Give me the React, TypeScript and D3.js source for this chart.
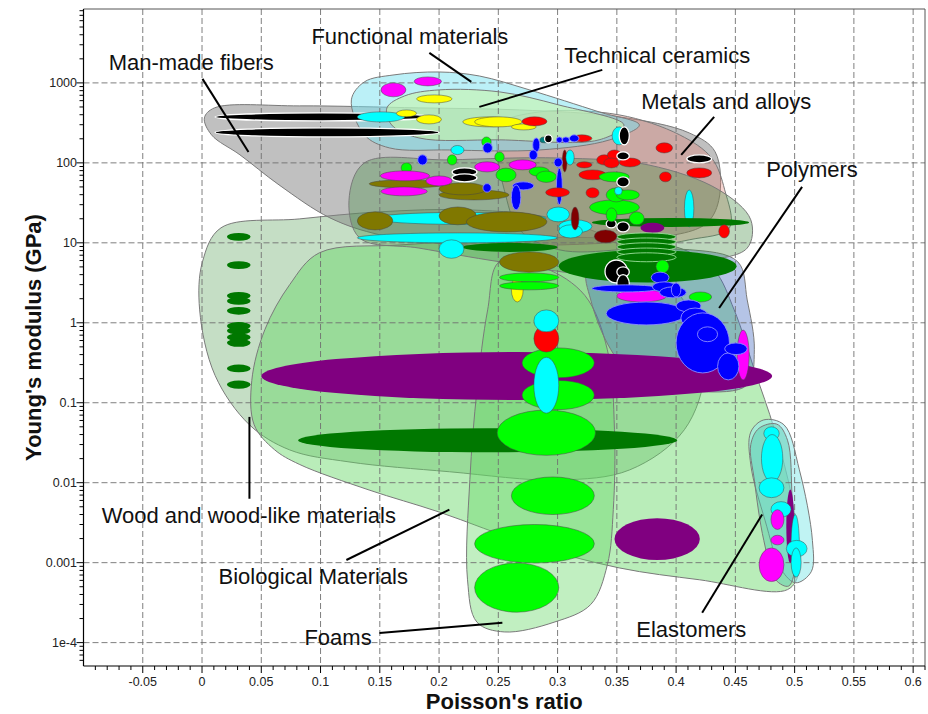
import React from "react";
import * as d3 from "d3";

type Pt = [number, number];
type Ell = [number, number, number, number, string];

// Axis domains: Poisson's ratio (linear) and Young's modulus in GPa (log)
const xDomain: [number, number] = [-0.1, 0.61];
const yDomain: [number, number] = [5.1e-5, 8400];

const xTickValues = [-0.05, 0, 0.05, 0.1, 0.15, 0.2, 0.25, 0.3, 0.35, 0.4, 0.45, 0.5, 0.55, 0.6];
const xTickLabels = ["-0.05", "0", "0.05", "0.1", "0.15", "0.2", "0.25", "0.3", "0.35", "0.4", "0.45", "0.5", "0.55", "0.6"];
const yTickValues = [1e-4, 1e-3, 0.01, 0.1, 1, 10, 100, 1000];
const yTickLabels = ["1e-4", "0.001", "0.01", "0.1", "1", "10", "100", "1000"];

const palette: Record<string, string> = {
  black: "#000000",
  cyan: "#00ffff",
  magenta: "#ff00ff",
  yellow: "#ffff00",
  red: "#ff0000",
  blue: "#0000ff",
  lime: "#00ff00",
  green: "#007800",
  purple: "#800080",
  olive: "#807800",
  maroon: "#800000",
  teal: "#008080",
};

// Family envelopes: [Poisson's ratio, E (GPa)]
const woodEnvelope: Pt[] = [
  [0.016, 15.4], [0.082, 19.9], [0.15, 24.4], [0.226, 25.8], [0.301, 19.4], [0.369, 7.1],
  [0.411, 1.45], [0.424, 0.26], [0.407, 0.046], [0.361, 0.0145], [0.301, 0.0108],
  [0.209, 0.0137], [0.124, 0.0182], [0.074, 0.0257], [0.04, 0.053], [0.011, 0.22],
  [-0.002, 1.45], [0.0004, 5.8],
];
const bioEnvelope: Pt[] = [
  [0.099, 7.5], [0.074, 3.0], [0.053, 0.82], [0.042, 0.19], [0.044, 0.053], [0.061, 0.026],
  [0.082, 0.017], [0.141, 0.0081], [0.2, 0.0043], [0.276, 0.0017], [0.352, 0.00086],
  [0.42, 0.00061], [0.494, 0.00046], [0.504, 0.00081], [0.498, 0.0061], [0.483, 0.046],
  [0.466, 0.26], [0.449, 1.45], [0.432, 4.6], [0.403, 8.6], [0.335, 11.5], [0.251, 10.9],
  [0.167, 9.4],
];
const foamEnvelope: Pt[] = [
  [0.251, 5.8], [0.289, 4.85], [0.323, 2.2], [0.342, 0.46], [0.348, 0.046], [0.347, 0.0046],
  [0.342, 0.00094], [0.328, 0.0003], [0.297, 0.00018], [0.255, 0.000136], [0.232, 0.00018],
  [0.224, 0.00061], [0.226, 0.011], [0.232, 0.145], [0.241, 1.45],
];
const polymerEnvelope: Pt[] = [
  [0.325, 4.6], [0.352, 7.1], [0.411, 8.2], [0.452, 5.8], [0.46, 1.93], [0.466, 0.46],
  [0.46, 0.167], [0.42, 0.137], [0.369, 0.182], [0.345, 0.46], [0.328, 1.93],
];
const compositeEnvelope: Pt[] = [
  [0.137, 100], [0.209, 109], [0.301, 115], [0.377, 94], [0.436, 46], [0.463, 19.4],
  [0.46, 8.6], [0.42, 5.8], [0.335, 4.0], [0.251, 5.8], [0.183, 8.6], [0.133, 11.5],
  [0.124, 34],
];
const fiberEnvelope: Pt[] = [
  [0.002, 365], [0.0105, 487], [0.082, 516], [0.183, 487], [0.268, 459], [0.352, 376],
  [0.411, 237], [0.433, 137], [0.436, 34], [0.424, 16.8], [0.369, 10.9], [0.301, 9.4],
  [0.217, 9.4], [0.15, 12.6], [0.108, 20.5], [0.065, 53], [0.032, 126], [0.008, 224],
];
const metalEnvelope: Pt[] = [
  [0.251, 300], [0.285, 434], [0.352, 398], [0.403, 224], [0.43, 115], [0.441, 46],
  [0.445, 15.4], [0.411, 10.9], [0.352, 8.2], [0.301, 8.2], [0.268, 14.5], [0.255, 46],
  [0.249, 145],
];
const functionalEnvelope: Pt[] = [
  [0.126, 613], [0.137, 1030], [0.162, 1260], [0.2, 1370], [0.234, 1220], [0.276, 820],
  [0.335, 434], [0.369, 298], [0.344, 194], [0.285, 145], [0.209, 145], [0.158, 154],
  [0.137, 224],
];
const ceramicEnvelope: Pt[] = [
  [0.156, 487], [0.171, 688], [0.2, 818], [0.251, 772], [0.301, 530], [0.356, 298],
  [0.335, 194], [0.251, 194], [0.183, 205], [0.16, 298],
];
const elastomerOuter: Pt[] = [
  [0.474, 0.061], [0.491, 0.053], [0.504, 0.0145], [0.515, 0.0019], [0.514, 0.00077],
  [0.501, 0.00056], [0.489, 0.00081], [0.475, 0.0034], [0.463, 0.0167], [0.463, 0.043],
];
const elastomerInner: Pt[] = [
  [0.47, 0.048], [0.485, 0.054], [0.494, 0.034], [0.498, 0.0061], [0.501, 0.00108],
  [0.495, 0.00051], [0.484, 0.00061], [0.474, 0.0019], [0.466, 0.0108], [0.463, 0.03],
];

// Material ellipses: [nu min, nu max, E min, E max, colour]
const woodEllipses: Ell[] = [
  [0.021, 0.041, 10.6, 13.3, "green"], [0.021, 0.041, 4.7, 5.9, "green"],
  [0.021, 0.041, 1.94, 2.43, "green"], [0.021, 0.041, 1.68, 2.1, "green"],
  [0.021, 0.041, 1.26, 1.58, "green"], [0.021, 0.041, 0.81, 1.02, "green"],
  [0.021, 0.041, 0.71, 0.89, "green"], [0.021, 0.041, 0.59, 0.74, "green"],
  [0.021, 0.041, 0.5, 0.63, "green"], [0.021, 0.041, 0.24, 0.3, "green"],
  [0.021, 0.041, 0.15, 0.19, "green"],
];
const broadEllipses: Ell[] = [
  [0.05, 0.481, 0.108, 0.43, "purple"],
  [0.081, 0.401, 0.024, 0.048, "green"],
  [0.348, 0.42, 0.00108, 0.0036, "purple"],
];
const foamEllipses: Ell[] = [
  [0.27, 0.331, 0.205, 0.485, "lime"],
  [0.27, 0.331, 0.082, 0.19, "lime"],
  [0.249, 0.332, 0.022, 0.081, "lime"],
  [0.261, 0.331, 0.004, 0.0118, "lime"],
  [0.23, 0.331, 0.00099, 0.003, "lime"],
  [0.23, 0.301, 0.00024, 0.00099, "lime"],
  [0.28, 0.301, 0.43, 0.94, "red"],
  [0.28, 0.301, 0.77, 1.45, "cyan"],
  [0.28, 0.301, 0.074, 0.37, "cyan"],
  [0.261, 0.271, 1.82, 3.75, "yellow"],
];
const midEllipses: Ell[] = [
  [0.131, 0.3, 10, 13.3, "cyan"],
  [0.145, 0.29, 17, 24, "cyan"],
  [0.131, 0.161, 14.5, 24.4, "olive"],
  [0.2, 0.2315, 16.8, 28.1, "olive"],
  [0.223, 0.291, 13.7, 24.4, "olive"],
  [0.22, 0.3, 7.7, 10, "green"],
  [0.2, 0.221, 6.4, 10.9, "cyan"],
  [0.251, 0.301, 4.3, 7.7, "olive"],
  [0.251, 0.301, 3.25, 4.2, "lime"],
  [0.251, 0.301, 2.58, 3.25, "lime"],
  [0.291, 0.31, 18.3, 28, "cyan"],
  [0.301, 0.329, 13.3, 19.4, "cyan"],
  [0.301, 0.321, 11.5, 16.8, "cyan"],
  [0.3115, 0.318, 14.5, 28, "maroon"],
];
const topEllipses: Ell[] = [
  [0.011, 0.192, 335, 421, "black"],
  [0.011, 0.2, 211, 274, "black"],
  [0.151, 0.172, 670, 1000, "magenta"],
  [0.179, 0.202, 918, 1189, "magenta"],
  [0.181, 0.211, 562, 708, "yellow"],
  [0.131, 0.171, 325, 434, "cyan"],
  [0.164, 0.181, 376, 459, "yellow"],
  [0.181, 0.202, 307, 398, "yellow"],
  [0.22, 0.265, 282, 376, "yellow"],
  [0.23, 0.27, 282, 376, "yellow"],
  [0.261, 0.282, 258, 307, "yellow"],
  [0.27, 0.291, 290, 376, "red"],
];
const dotEllipses: Ell[] = [
  [0.236, 0.244, 158, 211, "lime"],
  [0.237, 0.245, 133, 178, "blue"],
  [0.21, 0.221, 127, 165, "cyan"],
  [0.182, 0.19, 94, 126, "blue"],
  [0.207, 0.215, 94, 126, "lime"],
  [0.168, 0.177, 75, 100, "lime"],
  [0.247, 0.255, 103, 137, "lime"],
  [0.141, 0.206, 48.7, 61.3, "olive"],
  [0.2, 0.259, 34.4, 45.9, "olive"],
  [0.2, 0.24, 39.8, 56.2, "olive"],
  [0.23, 0.251, 77, 103, "magenta"],
  [0.1505, 0.192, 59.6, 79.4, "magenta"],
  [0.189, 0.211, 51.5, 68.7, "magenta"],
  [0.151, 0.19, 38.7, 50, "magenta"],
  [0.211, 0.232, 68.7, 86.5, "black"],
  [0.211, 0.232, 57.9, 72.8, "black"],
  [0.248, 0.265, 58, 86, "lime"],
  [0.237, 0.244, 43, 55, "blue"],
  [0.259, 0.282, 81.7, 109, "magenta"],
  [0.262, 0.28, 45.9, 57.9, "blue"],
  [0.261, 0.269, 25.8, 53, "blue"],
];
const metalEllipses: Ell[] = [
  [0.276, 0.293, 68, 89, "lime"],
  [0.282, 0.299, 57, 79, "lime"],
  [0.285, 0.293, 178, 211, "teal"],
  [0.289, 0.2955, 178, 224, "black"],
  [0.299, 0.304, 178, 211, "blue"],
  [0.304, 0.31, 178, 211, "blue"],
  [0.312, 0.329, 183, 224, "red"],
  [0.31, 0.318, 183, 224, "blue"],
  [0.279, 0.285, 137, 205, "blue"],
  [0.276, 0.283, 109, 145, "blue"],
  [0.304, 0.308, 77, 145, "maroon"],
  [0.307, 0.314, 94, 145, "cyan"],
  [0.297, 0.304, 89, 115, "blue"],
  [0.299, 0.304, 30, 86, "blue"],
  [0.316, 0.329, 86.5, 103, "red"],
  [0.333, 0.346, 94, 126, "red"],
  [0.342, 0.354, 109, 145, "red"],
  [0.339, 0.352, 86.5, 115, "red"],
  [0.352, 0.37, 89, 115, "red"],
  [0.35, 0.3605, 109, 137, "black"],
  [0.346, 0.358, 168, 282, "cyan"],
  [0.352, 0.3605, 168, 282, "black"],
  [0.383, 0.397, 133, 178, "red"],
  [0.409, 0.43, 100, 126, "black"],
  [0.409, 0.43, 64.9, 86.5, "red"],
  [0.386, 0.396, 57.9, 77.1, "red"],
  [0.324, 0.335, 36.5, 48.7, "red"],
  [0.29, 0.31, 37.5, 48.7, "red"],
  [0.318, 0.341, 61.3, 81.7, "red"],
  [0.327, 0.369, 22.4, 34.4, "lime"],
  [0.335, 0.3605, 57.9, 77.1, "lime"],
  [0.341, 0.358, 32.5, 48.7, "lime"],
  [0.3495, 0.369, 34.4, 45.9, "lime"],
  [0.35, 0.3605, 50, 66.8, "black"],
  [0.348, 0.3545, 39.8, 50, "cyan"],
  [0.407, 0.415, 15.8, 45.9, "cyan"],
];
const polymerBackEllipses: Ell[] = [
  [0.329, 0.4616, 15.8, 20.5, "green"],
  [0.301, 0.451, 3.2, 8.15, "green"],
  [0.37, 0.39, 13.3, 17.8, "purple"],
  [0.37, 0.392, 7.5, 10, "purple"],
];
const polymerStack: Ell[] = [
  [0.35, 0.4, 10.6, 13.3, "green"],
  [0.35, 0.4, 9.2, 11.5, "green"],
  [0.35, 0.4, 7.9, 10, "green"],
  [0.35, 0.4, 6.9, 8.6, "green"],
  [0.35, 0.4, 5.8, 7.5, "green"],
];
const polymerEllipses: Ell[] = [
  [0.341, 0.3495, 15.4, 19.4, "black"],
  [0.35, 0.3605, 13.7, 18.3, "black"],
  [0.341, 0.35, 18.3, 27.3, "lime"],
  [0.3605, 0.373, 16.8, 24.4, "lime"],
  [0.331, 0.35, 10, 14.5, "maroon"],
  [0.436, 0.445, 11.5, 16.8, "red"],
  [0.34, 0.359, 3.15, 6.1, "black"],
  [0.35, 0.3605, 3.75, 5.0, "black"],
  [0.35, 0.3605, 2.36, 4.0, "black"],
  [0.383, 0.394, 4.2, 6.1, "lime"],
  [0.35, 0.392, 1.82, 2.58, "magenta"],
  [0.329, 0.386, 2.43, 2.98, "blue"],
  [0.379, 0.394, 3.15, 4.3, "blue"],
  [0.38, 0.4, 2.43, 3.25, "blue"],
  [0.386, 0.4085, 2.05, 2.81, "blue"],
  [0.396, 0.404, 2.11, 3.15, "blue"],
  [0.411, 0.43, 1.82, 2.43, "lime"],
  [0.341, 0.4085, 0.94, 1.82, "blue"],
  [0.4, 0.421, 1.37, 1.93, "blue"],
  [0.404, 0.428, 0.86, 1.53, "blue"],
  [0.4515, 0.4616, 0.193, 0.81, "magenta"],
  [0.4, 0.445, 0.236, 1.33, "blue"],
  [0.418, 0.435, 0.58, 0.89, "blue"],
  [0.435, 0.453, 0.193, 0.42, "blue"],
  [0.441, 0.46, 0.4, 0.56, "blue"],
];
const elastomerEllipses: Ell[] = [
  [0.493, 0.4996, 0.00099, 0.0082, "purple"],
  [0.474, 0.487, 0.034, 0.05, "cyan"],
  [0.472, 0.49, 0.0102, 0.04, "cyan"],
  [0.47, 0.491, 0.0065, 0.0115, "cyan"],
  [0.48, 0.497, 0.0037, 0.0058, "cyan"],
  [0.48, 0.491, 0.0026, 0.0046, "magenta"],
  [0.48, 0.491, 0.00167, 0.0022, "magenta"],
  [0.497, 0.504, 0.00066, 0.004, "cyan"],
  [0.493, 0.5105, 0.00118, 0.0019, "cyan"],
  [0.497, 0.5055, 0.00066, 0.00153, "cyan"],
  [0.47, 0.491, 0.00058, 0.00153, "magenta"],
];

// Family labels: text anchor and leader line, in data units
const annotations: { text: string; at: Pt; from: Pt; to: Pt }[] = [
  { text: "Man-made fibers", at: [-0.0788, 1455], from: [0.0004, 1122], to: [0.0392, 137] },
  { text: "Functional materials", at: [0.0923, 3076], from: [0.1918, 2374], to: [0.2272, 1029] },
  { text: "Technical ceramics", at: [0.3057, 1778], from: [0.3377, 1455], to: [0.234, 501] },
  { text: "Metals and alloys", at: [0.3706, 473], from: [0.4321, 376], to: [0.4043, 126] },
  { text: "Polymers", at: [0.476, 66.7], from: [0.5063, 50], to: [0.4363, 1.53] },
  { text: "Wood and wood-like materials", at: [-0.0847, 0.00314], from: [0.04, 0.0063], to: [0.04, 0.0665] },
  { text: "Biological Materials", at: [0.0139, 0.000542], from: [0.1218, 0.00108], to: [0.2087, 0.0046] },
  { text: "Foams", at: [0.0864, 0.0000935], from: [0.1497, 0.000132], to: [0.2534, 0.000177] },
  { text: "Elastomers", at: [0.3664, 0.000118], from: [0.422, 0.000236], to: [0.4726, 0.004] },
];

const envelopeLayers: { pts: Pt[]; fill: string; op: number }[] = [
  { pts: woodEnvelope, fill: "rgb(140,190,140)", op: 0.5 },
  { pts: bioEnvelope, fill: "rgb(100,215,100)", op: 0.45 },
  { pts: foamEnvelope, fill: "rgb(100,215,100)", op: 0.4 },
  { pts: polymerEnvelope, fill: "rgb(60,100,190)", op: 0.38 },
  { pts: fiberEnvelope, fill: "rgb(130,130,130)", op: 0.5 },
  { pts: metalEnvelope, fill: "rgb(225,120,110)", op: 0.33 },
  { pts: compositeEnvelope, fill: "rgb(70,140,70)", op: 0.36 },
  { pts: functionalEnvelope, fill: "rgb(120,225,240)", op: 0.5 },
  { pts: ceramicEnvelope, fill: "rgb(200,245,170)", op: 0.6 },
  { pts: elastomerOuter, fill: "rgb(150,235,235)", op: 0.6 },
  { pts: elastomerInner, fill: "rgb(80,200,170)", op: 0.45 },
];

const FONT = "'Liberation Sans', Arial, Helvetica, sans-serif";

export default function App() {
  const left = 83.5, right = 925, top = 9, bottom = 666;
  const x = d3.scaleLinear().domain(xDomain).range([left, right]);
  const y = d3.scaleLog().domain(yDomain).range([bottom, top]);
  const hull = d3
    .line<Pt>()
    .x((d) => x(d[0]))
    .y((d) => y(d[1]))
    .curve(d3.curveCatmullRomClosed.alpha(0.5));

  const xMinor = d3.range(-10, 62).map((i) => i / 100).filter((v) => Math.abs(v * 20 - Math.round(v * 20)) > 1e-6);
  const yMinor: number[] = [];
  for (let k = -5; k <= 3; k++)
    for (let m = 2; m <= 9; m++) {
      const v = m * Math.pow(10, k);
      if (v >= yDomain[0] && v <= yDomain[1]) yMinor.push(v);
    }

  const strokeFor = (c: string) => {
    if (c === "black") return "#ffffff";
    if (c === "green" || c === "purple") return "none";
    if (c === "blue") return "#8c8cff";
    return "rgba(70,70,70,0.55)";
  };

  const drawEll = (list: Ell[], key: string, strokeOverride?: string) =>
    list.map((e, i) => {
      const [n1, n2, e1, e2, c] = e;
      const x1 = x(n1), x2 = x(n2), y1 = y(e1), y2 = y(e2);
      const st = strokeOverride ?? strokeFor(c);
      return (
        <ellipse
          key={key + i}
          cx={(x1 + x2) / 2}
          cy={(y1 + y2) / 2}
          rx={Math.abs(x2 - x1) / 2}
          ry={Math.abs(y2 - y1) / 2}
          fill={palette[c]}
          stroke={st}
          strokeWidth={c === "black" ? 1.3 : 0.9}
        />
      );
    });

  return (
    <>
      <style>{`html,body{margin:0;padding:0;overflow:hidden;background:#fff}`}</style>
      <svg width={928} height={714} style={{ display: "block", position: "absolute", left: 0, top: 0 }} fontFamily={FONT}>
        <defs>
          <clipPath id="plotClip">
            <rect x={left} y={top} width={right - left} height={bottom - top} />
          </clipPath>
        </defs>
        <rect x={0} y={0} width={928} height={714} fill="#ffffff" />

        <g clipPath="url(#plotClip)">
          {envelopeLayers.map((l, i) => (
            <path key={"env" + i} d={hull(l.pts) || ""} fill={l.fill} fillOpacity={l.op} stroke="#7a7a7a" strokeWidth={1} />
          ))}

          {/* dashed grid */}
          {xTickValues.map((v) => (
            <line key={"gx" + v} x1={x(v)} x2={x(v)} y1={top} y2={bottom} stroke="#707070" strokeWidth={0.9} strokeDasharray="6,3" />
          ))}
          {yTickValues.map((v) => (
            <line key={"gy" + v} x1={left} x2={right} y1={y(v)} y2={y(v)} stroke="#707070" strokeWidth={0.9} strokeDasharray="6,3" />
          ))}

          {drawEll(woodEllipses, "w")}
          {drawEll(broadEllipses, "b")}
          {drawEll(foamEllipses, "f")}
          {drawEll(midEllipses, "m")}
          {drawEll(topEllipses, "t")}
          {drawEll(dotEllipses, "d")}
          {drawEll(metalEllipses, "me")}
          {drawEll(polymerBackEllipses, "pb")}
          {drawEll(polymerStack, "ps", "#9be09b")}
          {drawEll(polymerEllipses, "p")}
          {drawEll(elastomerEllipses, "e")}
        </g>

        {/* frame */}
        <line x1={left} x2={right} y1={top} y2={top} stroke="#555" strokeWidth={1} />
        <line x1={right} x2={right} y1={top} y2={bottom} stroke="#555" strokeWidth={1} />
        <line x1={left} x2={left} y1={top} y2={bottom} stroke="#000" strokeWidth={1.2} />
        <line x1={left} x2={right} y1={bottom} y2={bottom} stroke="#000" strokeWidth={1.2} />

        {/* x ticks */}
        {xMinor.map((v) => (
          <line key={"xm" + v} x1={x(v)} x2={x(v)} y1={bottom} y2={bottom + 4} stroke="#000" strokeWidth={1} />
        ))}
        {xTickValues.map((v, i) => (
          <g key={"xt" + v}>
            <line x1={x(v)} x2={x(v)} y1={bottom} y2={bottom + 7} stroke="#000" strokeWidth={1} />
            <text x={x(v)} y={686} textAnchor="middle" fontSize={12.5} fill="#222">
              {xTickLabels[i]}
            </text>
          </g>
        ))}

        {/* y ticks */}
        {yMinor.map((v) => (
          <line key={"ym" + v} x1={left - 4} x2={left} y1={y(v)} y2={y(v)} stroke="#000" strokeWidth={1} />
        ))}
        {yTickValues.map((v, i) => (
          <g key={"yt" + v}>
            <line x1={left - 7} x2={left} y1={y(v)} y2={y(v)} stroke="#000" strokeWidth={1} />
            <text x={77} y={y(v)} dy="0.35em" textAnchor="end" fontSize={12.5} fill="#222">
              {yTickLabels[i]}
            </text>
          </g>
        ))}

        {/* axis titles */}
        <text x={(left + right) / 2} y={709} textAnchor="middle" fontSize={22} fontWeight="bold" fill="#111">
          Poisson's ratio
        </text>
        <text
          transform={`translate(41,${(top + bottom) / 2}) rotate(-90)`}
          textAnchor="middle"
          fontSize={22}
          fontWeight="bold"
          fill="#111"
        >
          Young's modulus (GPa)
        </text>

        {/* family labels */}
        {annotations.map((a) => (
          <g key={a.text}>
            <line x1={x(a.from[0])} y1={y(a.from[1])} x2={x(a.to[0])} y2={y(a.to[1])} stroke="#000" strokeWidth={2} />
            <text x={x(a.at[0])} y={y(a.at[1])} fontSize={22} fill="#111">
              {a.text}
            </text>
          </g>
        ))}
      </svg>
    </>
  );
}
